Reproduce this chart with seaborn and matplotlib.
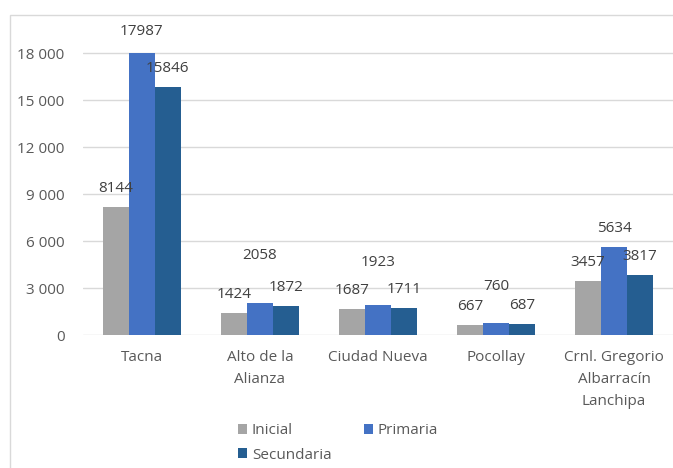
import matplotlib
matplotlib.use("Agg")
import matplotlib.pyplot as plt
import seaborn as sns
import pandas as pd
from matplotlib.patches import Rectangle

districts = ["Tacna", "Alto de la\nAlianza", "Ciudad Nueva", "Pocollay",
             "Crnl. Gregorio\nAlbarracín\nLanchipa"]
series = ["Inicial", "Primaria", "Secundaria"]
inicial = [8144, 1424, 1687, 667, 3457]
primaria = [17987, 2058, 1923, 760, 5634]
secundaria = [15846, 1872, 1711, 687, 3817]
yticks = [0, 3000, 6000, 9000, 12000, 15000, 18000]

colors = ["#A5A5A5", "#4472C4", "#255E91"]
# label vertical offsets (points) per series / category (Excel-style manual placement)
label_dy = {
    "Inicial": [8, 8, 8, 8, 8],
    "Primaria": [10, 29, 25, 21, 8],
    "Secundaria": [8, 8, 8, 8, 8],
}

rows = []
for name, vals in zip(series, [inicial, primaria, secundaria]):
    for d, v in zip(districts, vals):
        rows.append({"Distrito": d, "Nivel": name, "Valor": v})
df = pd.DataFrame(rows)

sns.set_style("white")
plt.rcParams["font.family"] = ["Open Sans", "DejaVu Sans"]
txt = "#595959"
fs = 11

fig = plt.figure(figsize=(6.73, 4.68), dpi=100)
ax = fig.add_axes([0.123, 0.284, 0.877, 0.673])

sns.barplot(data=df, x="Distrito", y="Valor", hue="Nivel", order=districts,
            hue_order=series, palette=colors, width=0.66, ax=ax,
            saturation=1, edgecolor="none", legend=True)

ax.set_ylim(0, 20100)
ax.set_yticks(yticks)
ax.set_yticklabels([f"{v:,}".replace(",", " ") for v in yticks], color=txt, fontsize=fs)
ax.tick_params(axis="y", length=0, pad=13)
ax.tick_params(axis="x", length=0, pad=11, labelsize=fs, labelcolor=txt)
for lab in ax.get_xticklabels():
    lab.set_linespacing(1.6)
    lab.set_verticalalignment("top")
ax.set_xlabel("")
ax.set_ylabel("")
ax.grid(axis="y", color="#D9D9D9", linewidth=1)
ax.set_axisbelow(True)
for s in ax.spines.values():
    s.set_visible(False)
ax.set_xlim(-0.5, 4.5)

for ci, (cont, name) in enumerate(zip(ax.containers, series)):
    for bi, bar in enumerate(cont):
        h = bar.get_height()
        ax.annotate(f"{int(h)}", (bar.get_x() + bar.get_width() / 2, h),
                    xytext=(0, label_dy[name][bi]), textcoords="offset points",
                    ha="center", va="bottom", fontsize=fs, color="#404040")

handles, labels = ax.get_legend_handles_labels()
order = [0, 2, 1]
leg = ax.legend([handles[i] for i in order], [labels[i] for i in order],
                loc="upper left", bbox_to_anchor=(0.24, -0.237), ncol=2,
                frameon=False, fontsize=fs, handlelength=0.6, handleheight=0.6,
                handletextpad=0.3, columnspacing=2.1, labelspacing=0.6)
for t in leg.get_texts():
    t.set_color(txt)

fig.patches.append(Rectangle((0.015, -0.01), 1.0, 0.978, transform=fig.transFigure,
                             fill=False, edgecolor="#D9D9D9", linewidth=1))

fig.savefig("out.png", dpi=100)
